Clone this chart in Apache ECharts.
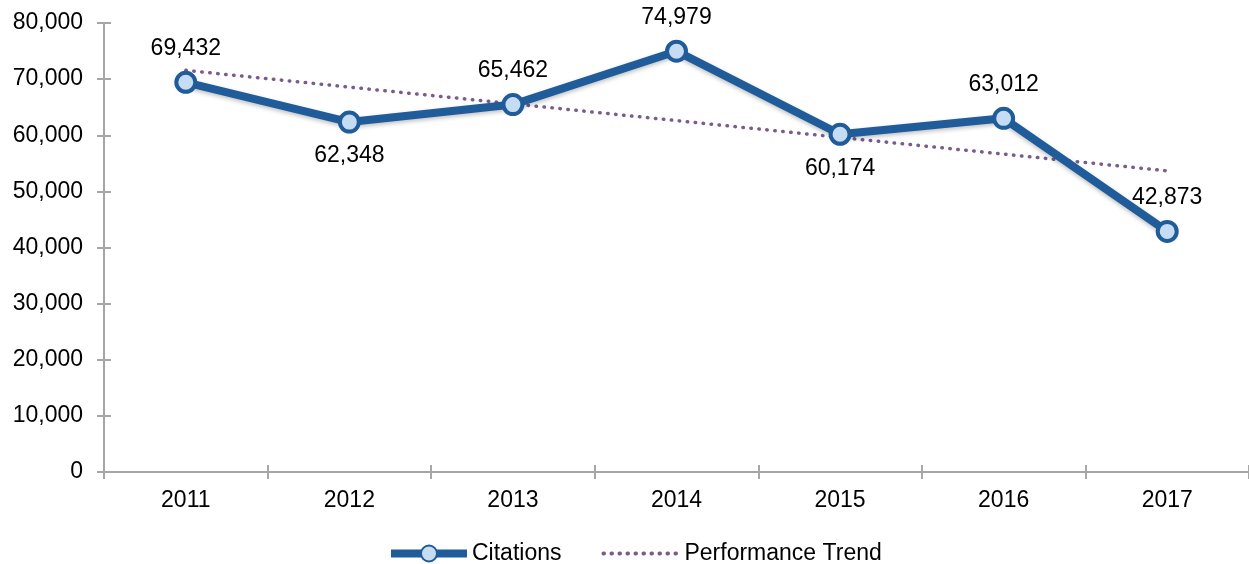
<!DOCTYPE html>
<html><head><meta charset="utf-8">
<script src="https://cdn.jsdelivr.net/npm/echarts@6/dist/echarts.min.js"></script>
<style>html,body{margin:0;padding:0;background:#fff}#c{width:1249px;height:564px}</style>
</head><body><div id="c"></div>
<script>
var categories = ['2011','2012','2013','2014','2015','2016','2017'];
var citations = [69432, 62348, 65462, 74979, 60174, 63012, 42873];
var trend = [71570, 68580, 65600, 62610, 59620, 56640, 53650];
var labelPos = ['top','bottom','top','top','bottom','top','top'];

var axisGrey = '#a6a6a6';
var font = 'Liberation Sans, Arial, sans-serif';
var fs = 23;
var chart = echarts.init(document.getElementById('c'));
chart.setOption({
  animation: false,
  grid: {left: 104, right: 0, top: 23, bottom: 92, containLabel: false},
  legend: {
    top: 537, left: 382, itemGap: 40, itemWidth: 76, itemHeight: 20,
    textStyle: {fontFamily: font, fontSize: fs, color: '#000'},
    data: [
      {name: 'Citations', lineStyle: {width: 8}},
      {name: 'Performance Trend', itemStyle: {opacity: 0}, lineStyle: {width: 4}}
    ]
  },
  xAxis: [{
    type: 'category', data: categories, boundaryGap: true,
    axisLine: {lineStyle: {color: axisGrey, width: 2}},
    axisTick: {show: false},
    axisLabel: {fontFamily: font, fontSize: fs, color: '#000', margin: 17},
    splitLine: {show: false}
  }, {
    type: 'category', data: categories, position: 'bottom', offset: -7, boundaryGap: true,
    axisLine: {show: false},
    axisTick: {show: true, length: 14, lineStyle: {color: axisGrey, width: 2}},
    axisLabel: {show: false}
  }],
  yAxis: [{
    type: 'value', min: 0, max: 80000, interval: 10000,
    axisLine: {show: true, lineStyle: {color: axisGrey, width: 2}},
    axisTick: {show: false},
    axisLabel: {fontFamily: font, fontSize: fs, color: '#000', margin: 21,
      formatter: function(v){ return v.toLocaleString('en-US'); }},
    splitLine: {show: false}
  }, {
    type: 'value', min: 0, max: 80000, interval: 10000, position: 'left', offset: -7,
    axisLine: {show: false},
    axisTick: {show: true, length: 14, lineStyle: {color: axisGrey, width: 2}},
    axisLabel: {show: false}, splitLine: {show: false}
  }],
  series: [{
    name: 'Performance Trend', type: 'line', data: trend,
    symbol: 'none', z: 2,
    lineStyle: {color: '#7a5b8e', width: 3.5, type: [0.5, 7.5], cap: 'round'},
    itemStyle: {color: '#7a5b8e'}
  }, {
    name: 'Citations', type: 'line', z: 3,
    data: citations.map(function(v, i){
      return {value: v, label: {position: labelPos[i]}};
    }),
    symbol: 'circle', symbolSize: 19,
    lineStyle: {color: '#1f5c99', width: 8, shadowColor: 'rgba(0,0,0,0.25)', shadowBlur: 4, shadowOffsetY: 2},
    itemStyle: {color: '#c6dcf2', borderColor: '#1f5c99', borderWidth: 4},
    label: {show: true, distance: 11, fontFamily: font, fontSize: fs, color: '#000',
      formatter: function(p){ return p.value.toLocaleString('en-US'); }}
  }]
});
</script></body></html>
